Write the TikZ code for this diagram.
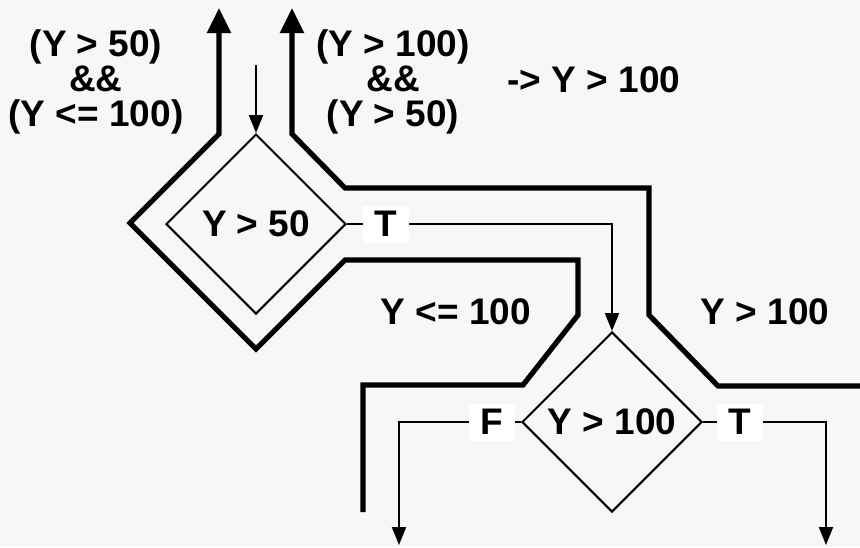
\documentclass[tikz,border=0pt]{standalone}
\usepackage{fontspec}
\setmainfont{Liberation Sans}
\usepackage{xcolor}
\usetikzlibrary{
	arrows.meta,
	shapes.geometric,
	positioning
}
\definecolor{paper}{HTML}{F7F7F7}

\begin{document}
\begin{tikzpicture}[x=0.5pt, y=-0.5pt,
		font=\fontsize{18.5}{17.5}\selectfont\bfseries,
		decision/.style={draw, diamond, aspect=1, line width=1pt, minimum size=90pt, inner sep=0pt},
		flag/.style={fill=white, minimum width=23pt, minimum height=18.5pt, inner sep=0pt},
		flow/.style={line width=1pt},
		flowarr/.style={flow, -{Triangle[length=9pt, width=7pt]}},
		wall/.style={line width=2.6pt, -{Triangle[length=12.5pt, width=11.5pt]}}]
		\useasboundingbox (0,0) rectangle (860,547);
		\fill[paper] (0,0) rectangle (860,547);
		% the two tests
		\node[decision] (d1) at (256,224) {Y > 50};
		\node[decision] (d2) at (612,422) {Y > 100};
		\foreach \n/\t/\x/\y in {t1/T/386/224, f2/F/492/422, t2/T/740/422}
		\node[flag] (\n) at (\x,\y) {\t};
		\coordinate (entry) at (256,65);
		\coordinate (exitF) at (399,545);
		\coordinate (exitT) at (826,545);
		\draw[flowarr] (entry) -- (d1.north);
		\draw[flow] (d1.east) -- (t1);
		\draw[flowarr] (t1) -| (d2.north);
		\draw[flow] (d2.west) -- (f2);
		\draw[flowarr] (f2) -| (exitF);
		\draw[flow] (d2.east) -- (t2);
		\draw[flowarr] (t2) -| (exitT);
		% region borders
		\draw[wall] (363,512) -- (363,385) -- (523,385) -- (578,315) -- (578,260) -- (345,260)
			-- (256,349) -- (130,223) -- (219,134) -- (219,8);
		\draw[wall] (860,386) -- (718,386) -- (649,315) -- (649,188) -- (345,188) -- (292,134) -- (292,8);
		% conditions
		\node[align=center] (cond1) at (96,82) {(Y > 50)\\\&\&\\(Y <= 100)};
		\node[align=center] (cond2) at (393,82) {(Y > 100)\\\&\&\\(Y > 50)};
		\node (impl) at (594,80) {-> Y > 100};
		\node (low) at (456,312) {Y <= 100};
		\node (high) at (765,312) {Y > 100};
	\end{tikzpicture}
\end{document}
